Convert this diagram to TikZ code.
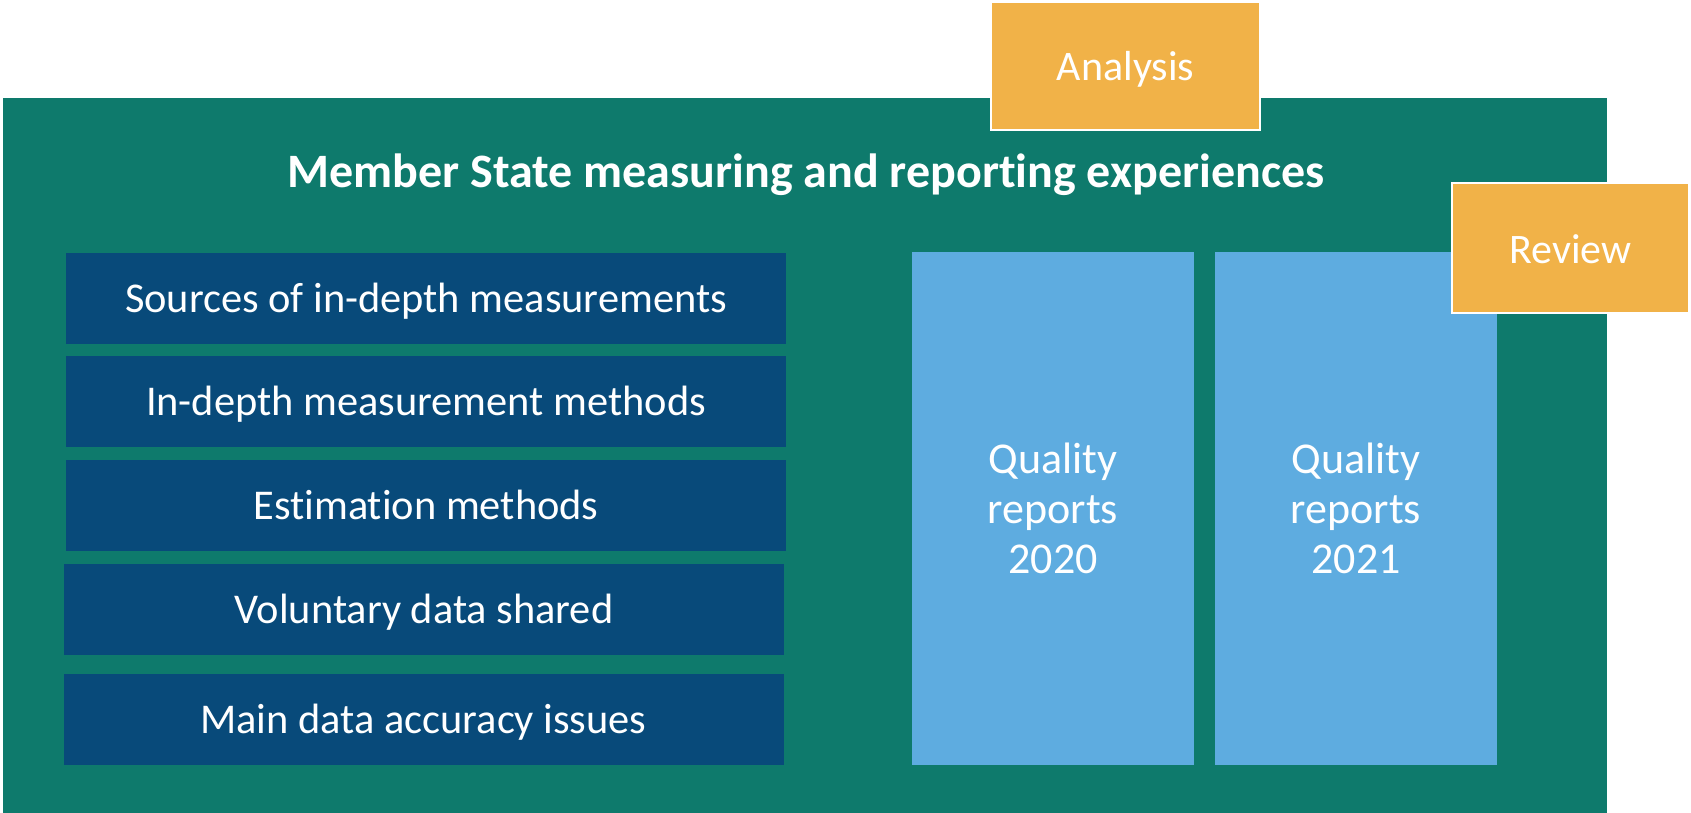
\documentclass[tikz,border=0pt]{standalone}
\usepackage{fontspec}
\setmainfont{Carlito}[Ligatures={NoCommon}]
\definecolor{msgreen}{HTML}{0E7A6C}
\definecolor{msdark}{HTML}{084A7A}
\definecolor{mslight}{HTML}{5EACE0}
\definecolor{msorange}{HTML}{F1B248}
\tikzset{
  topic/.style={fill=msdark, text=white, inner sep=0pt, minimum width=360pt, minimum height=45.5pt, text height=15pt, text depth=1pt, font=\fontsize{21.2}{25}\selectfont},
  report/.style={fill=mslight, text=white, inner sep=0pt, minimum width=141pt, minimum height=256.5pt, align=center, font=\fontsize{22}{25}\selectfont},
  stage/.style={fill=msorange, draw=white, line width=1pt, text=white, inner sep=0pt, text height=16pt, text depth=1pt, font=\fontsize{21}{25}\selectfont}
}
\begin{document}
\begin{tikzpicture}[x=0.5pt, y=-0.5pt]
\useasboundingbox (0,0) rectangle (1691,813);
% frame
\node (frame) [fill=msgreen, inner sep=0pt, minimum width=802pt, minimum height=357.5pt] at (805,455.5) {};
\node (title) [text=white, font=\fontsize{24}{28}\selectfont\bfseries] at (806,175) {Member State measuring and reporting experiences};
% topics on the left
\node (sources) [topic] at (426,298) {Sources of in-depth measurements};
\node (methods) [topic] at (426,401) {In-depth measurement methods};
\node (estim) [topic] at (426,505.5) {Estimation methods};
\node (volunt) [topic] at (424,609.5) {Voluntary data shared};
\node (issues) [topic] at (423.5,719.5) {Main data accuracy issues};
% quality reports
\node (qr2020) [report] at (1053,508.5) {Quality\\reports\\2020};
\node (qr2021) [report] at (1356,508.5) {Quality\\reports\\2021};
% stages
\node (analysis) [stage, minimum width=134.5pt, minimum height=64pt] at (1125.5,66) {Analysis};
\node (review) [stage, minimum width=118.5pt, minimum height=65pt] at (1570.5,248) {Review};
\end{tikzpicture}
\end{document}
